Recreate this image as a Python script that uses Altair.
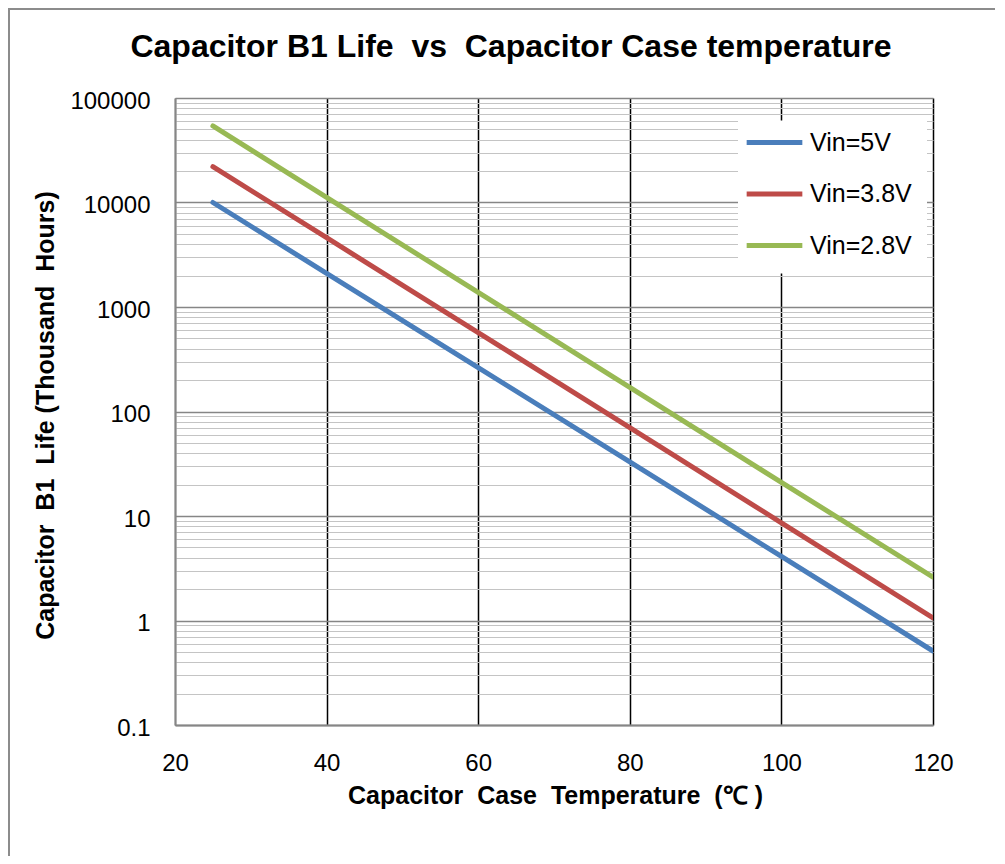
import altair as alt
import pandas as pd

# Data
temps = [25, 40, 60, 80, 100, 120]
life_5v = [10000, 2100, 263, 33, 4.1, 0.51]
life_38v = [22000, 4600, 570, 70, 8.6, 1.06]
life_28v = [54000, 11200, 1380, 170, 21, 2.6]

series = ["Vin=5V", "Vin=3.8V", "Vin=2.8V"]
colors = ["#4A7EBB", "#BE4B48", "#98B954"]

rows = []
for name, vals in zip(series, [life_5v, life_38v, life_28v]):
    for t, v in zip(temps, vals):
        rows.append({"temp": t, "life": v, "series": name})
df = pd.DataFrame(rows)

x_ticks = [20, 40, 60, 80, 100, 120]
y_major = [0.1, 1, 10, 100, 1000, 10000, 100000]
y_minor = [round(m * d, 6) for d in y_major[:-1] for m in range(2, 10)]
y_ticks = sorted(y_major + y_minor)

is_major = "abs(log(datum.value)/LN10 - round(log(datum.value)/LN10)) < 0.01"

W, H = 758, 627
FONT = "Liberation Sans"

lines = alt.Chart(df).mark_line(strokeWidth=5, strokeCap="round", clip=True).encode(
    x=alt.X(
        "temp:Q",
        scale=alt.Scale(domain=[20, 120], nice=False, zero=False),
        axis=alt.Axis(
            values=x_ticks,
            grid=True,
            ticks=False,
            gridColor={"condition": {"test": "datum.value == 20", "value": "#868686"}, "value": "#000000"},
            gridWidth=1.5,
            domainColor="#868686",
            domainWidth=2,
            labelFontSize=24,
            labelFont=FONT,
            labelColor="black",
            labelPadding=26,
            labelFlush=False,
            labelBound=False,
            labelOverlap=False,
            title="Capacitor\u00a0\u00a0Case\u00a0\u00a0Temperature\u00a0\u00a0(℃ )",
            titleFont=FONT,
            titleFontSize=25,
            titleFontWeight="bold",
            titleColor="black",
            titleX=380,
            titleY=78.5,
            titleBaseline="alphabetic",
            titleAlign="center",
        ),
    ),
    y=alt.Y(
        "life:Q",
        scale=alt.Scale(type="log", domain=[0.1, 100000], nice=False),
        axis=alt.Axis(
            values=y_ticks,
            grid=True,
            ticks=False,
            gridColor={"condition": {"test": is_major, "value": "#868686"}, "value": "#c4c4c4"},
            gridWidth={"condition": {"test": is_major, "value": 1.5}, "value": 1},
            labelExpr=is_major + " ? format(datum.value, '~g') : ''",
            labelOverlap=False,
            labelBound=False,
            labelFlush=False,
            domainColor="#868686",
            domainWidth=2,
            labelFontSize=24,
            labelFont=FONT,
            labelColor="black",
            labelPadding=25,
            labelOffset=3,
            title="Capacitor\u00a0\u00a0B1\u00a0\u00a0Life (Thousand\u00a0\u00a0Hours)",
            titleFont=FONT,
            titleFontSize=25,
            titleFontWeight="bold",
            titleColor="black",
            titleX=-122,
            titleY=317,
            titleBaseline="alphabetic",
            titleAlign="center",
            titleAngle=270,
        ),
    ),
    color=alt.Color(
        "series:N",
        scale=alt.Scale(domain=series, range=colors),
        sort=series,
        legend=alt.Legend(
            title=None,
            orient="none",
            legendX=569,
            legendY=14,
            symbolType="stroke",
            symbolSize=3100,
            symbolStrokeWidth=5,
            labelFontSize=25,
            labelFont=FONT,
            labelColor="black",
            labelOffset=5,
            padding=0,
            rowPadding=7.5,
        ),
    ),
)

deco_df = pd.DataFrame({"k": [0]})
legend_box = alt.Chart(deco_df).mark_rect(color="white").encode(
    x=alt.value(563), x2=alt.value(752), y=alt.value(22.5), y2=alt.value(175.5)
)
left_border = alt.Chart(deco_df).mark_rule(color="#8c8c8c", strokeWidth=2).encode(
    x=alt.value(-166), y=alt.value(-89), y2=alt.value(760)
)
top_border = alt.Chart(deco_df).mark_rule(color="#8c8c8c", strokeWidth=2).encode(
    x=alt.value(-167), x2=alt.value(820), y=alt.value(-89)
)

chart = (
    alt.layer(left_border, top_border, legend_box, lines)
    .properties(
        width=W,
        height=H,
        autosize=alt.AutoSizeParams(type="none"),
        padding={"left": 167, "top": 90, "right": 64, "bottom": 131},
        title=alt.Title(
            text="Capacitor B1 Life\u00a0\u00a0vs\u00a0\u00a0Capacitor Case temperature",
            font=FONT,
            fontSize=32,
            fontWeight="bold",
            color="black",
            anchor="middle",
            frame="group",
            dx=-43,
            offset=-80.7,
            baseline="alphabetic",
        ),
    )
    .configure_view(stroke=None)
    .configure(background="white")
)

chart.save("out.html", embed_options={"renderer": "svg", "actions": False})
